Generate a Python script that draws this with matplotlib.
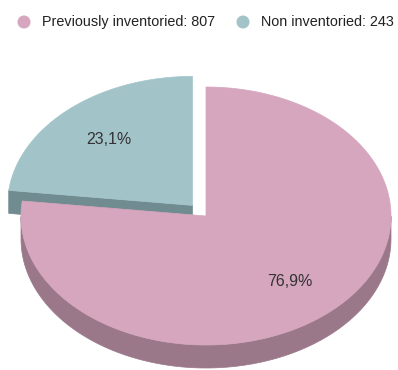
import numpy as np
import matplotlib
matplotlib.use("Agg")
import matplotlib.pyplot as plt
from matplotlib.patches import Polygon, Circle

plt.rcParams['font.family'] = ['Liberation Sans', 'DejaVu Sans']

# data
names = ["Previously inventoried", "Non inventoried"]
counts = [807, 243]
top_colors = ["#D5A6BD", "#A2C4C9"]
side_colors = ["#9A788A", "#708C90"]
explode = [0.0, 0.11]

# pie geometry (pixels)
cx, cy = 206, 216
rx, ry = 185, 129
depth = 23
label_r = 0.68

fig = plt.figure(figsize=(3.98, 3.70), dpi=100)
ax = fig.add_axes([0, 0, 1, 1])
ax.set_xlim(0, 398)
ax.set_ylim(370, 0)
ax.axis("off")

total = sum(counts)
fracs = [c / total for c in counts]
cum = np.concatenate([[0], np.cumsum(fracs)])


def pt(a, ox, oy, r=1.0, dz=0):
    t = np.radians(a)
    return cx + ox + r * rx * np.cos(t), cy + oy - r * ry * np.sin(t) + dz


slices = []
for i, f in enumerate(fracs):
    a0 = 90 - 360 * cum[i]
    a1 = 90 - 360 * cum[i + 1]
    mid = (a0 + a1) / 2
    ox = explode[i] * rx * np.cos(np.radians(mid))
    oy = -explode[i] * ry * np.sin(np.radians(mid))
    slices.append((i, a0, a1, mid, ox, oy))

# back slices first
slices.sort(key=lambda s: -np.sin(np.radians(s[3])))

for i, a0, a1, mid, ox, oy in slices:
    # cut faces that turn toward the viewer
    for a, n in ((a0, a0 + 90), (a1, a1 - 90)):
        if np.sin(np.radians(n)) < -1e-6:
            x0, y0 = pt(a, ox, oy, 0)
            x1, y1 = pt(a, ox, oy)
            quad = [(x0, y0), (x1, y1), (x1, y1 + depth), (x0, y0 + depth)]
            ax.add_patch(Polygon(quad, closed=True, fc=side_colors[i],
                                 ec=side_colors[i], lw=0.5))
    # outer wall on the front half
    t = np.linspace(a1, a0, 400)
    t = t[np.sin(np.radians(t)) <= 0]
    if len(t):
        xs, ys = pt(t, ox, oy)
        wall = list(zip(xs, ys)) + list(zip(xs[::-1], ys[::-1] + depth))
        ax.add_patch(Polygon(wall, closed=True, fc=side_colors[i],
                             ec=side_colors[i], lw=0.5))
    # top
    t = np.linspace(a1, a0, 400)
    xs, ys = pt(t, ox, oy)
    top = [pt(0, ox, oy, 0)] + list(zip(xs, ys))
    ax.add_patch(Polygon(top, closed=True, fc=top_colors[i],
                         ec=top_colors[i], lw=0.5))

for i, a0, a1, mid, ox, oy in slices:
    lx, ly = pt(mid, ox, oy, label_r)
    txt = f"{fracs[i] * 100:.1f}".replace(".", ",") + "%"
    ax.text(lx, ly, txt, ha="center", va="center", fontsize=11.5,
            color="#333333")

# legend
lx = [24, 243]
for i, name in enumerate(names):
    ax.add_patch(Circle((lx[i], 22), 6.5, fc=top_colors[i], ec="none"))
    ax.text(lx[i] + 18, 22, f"{name}: {counts[i]}", ha="left", va="center",
            fontsize=10.4, color="#222222")

fig.savefig("out.png", dpi=100)
